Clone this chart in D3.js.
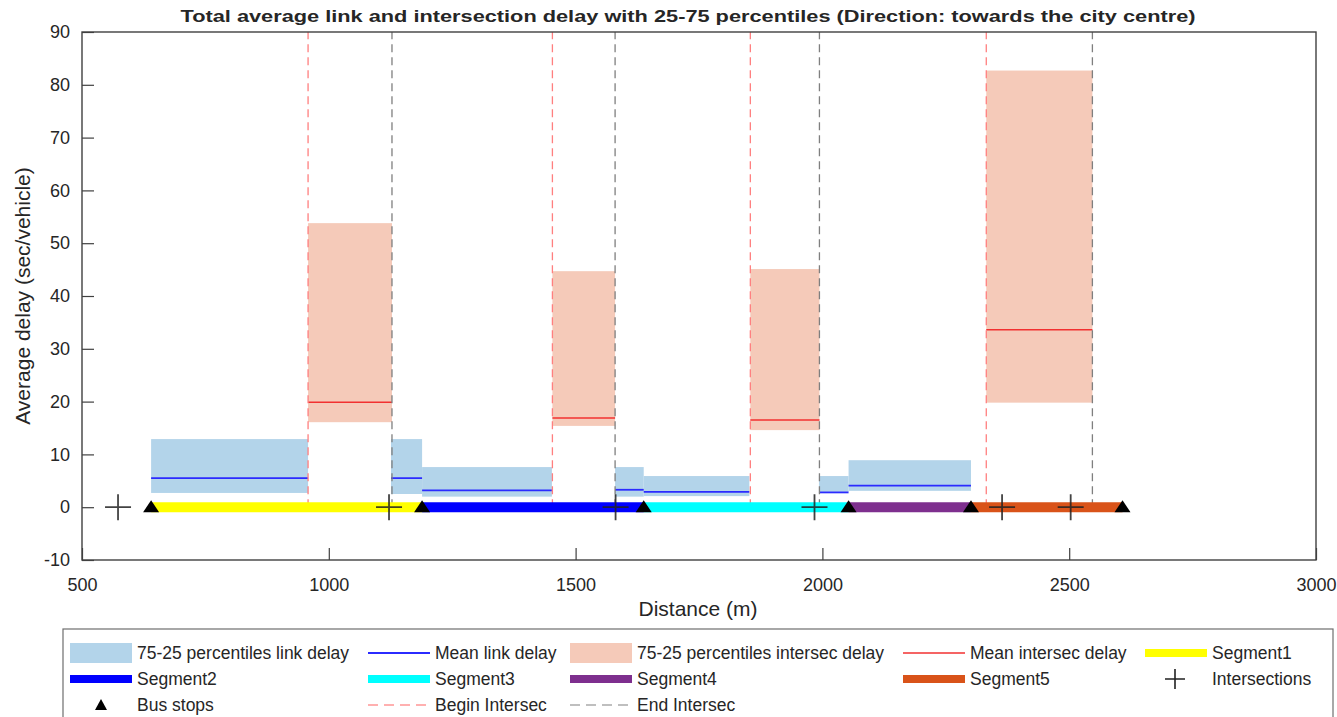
<!DOCTYPE html>
<html>
<head>
<meta charset="utf-8">
<script src="https://cdn.jsdelivr.net/npm/d3@7"></script>
<style>
  body { margin: 0; background: #fff; }
  text { font-family: "Liberation Sans", Arial, sans-serif; fill: #262626; }
</style>
</head>
<body>
<div id="chart"></div>
<script>
// link delay boxes (distance in m, delay in sec/vehicle)
const linkStart = [640, 1126, 1189, 1580, 1638, 1993, 2053];
const linkEnd   = [958, 1189, 1452, 1638, 1852, 2053, 2301];
const linkP25   = [2.7, 2.5, 2.0, 2.0, 2.1, 2.9, 3.1];
const linkP75   = [12.9, 12.9, 7.6, 7.6, 5.9, 5.9, 8.9];
const linkMean  = [5.5, 5.5, 3.2, 3.3, 2.9, 2.8, 4.1];

// intersection delay boxes
const intStart = [958, 1453, 1854, 2332];
const intEnd   = [1128, 1580, 1994, 2547];
const intP25   = [16.1, 15.4, 14.6, 19.8];
const intP75   = [53.8, 44.7, 45.1, 82.7];
const intMean  = [19.9, 16.9, 16.5, 33.6];

const segNames = ["Segment1", "Segment2", "Segment3", "Segment4", "Segment5"];
const segStart = [640, 1189, 1638, 2053, 2301];
const segEnd   = [1189, 1638, 2053, 2301, 2608];
const segColors = ["#ffff00", "#0000ff", "#00ffff", "#7e2f8e", "#d95319"];

const busStops = [640, 1189, 1638, 2053, 2301, 2608];
const intersections = [573, 1122, 1581, 1984, 2364, 2503];

const xTicks = [500, 1000, 1500, 2000, 2500, 3000];
const yTicks = [-10, 0, 10, 20, 30, 40, 50, 60, 70, 80, 90];

const W = 1337, H = 717;
const svg = d3.select("#chart").append("svg")
    .attr("width", W).attr("height", H);

const x = d3.scaleLinear().domain([500, 3000]).range([82, 1316]);
const y = d3.scaleLinear().domain([-10, 90]).range([560, 32]);

const linkColor = "#b3d4ea";
const intColor = "#f5cab9";

const plot = svg.append("g");

// link percentile boxes
plot.selectAll("rect.link").data(linkStart).join("rect")
    .attr("x", (d, i) => x(d))
    .attr("width", (d, i) => x(linkEnd[i]) - x(d))
    .attr("y", (d, i) => y(linkP75[i]))
    .attr("height", (d, i) => y(linkP25[i]) - y(linkP75[i]))
    .attr("fill", linkColor);

plot.selectAll("line.linkmean").data(linkStart).join("line")
    .attr("x1", d => x(d)).attr("x2", (d, i) => x(linkEnd[i]))
    .attr("y1", (d, i) => y(linkMean[i])).attr("y2", (d, i) => y(linkMean[i]))
    .attr("stroke", "#2b2bff").attr("stroke-width", 1.8);

// intersection percentile boxes
plot.selectAll("rect.int").data(intStart).join("rect")
    .attr("x", d => x(d))
    .attr("width", (d, i) => x(intEnd[i]) - x(d))
    .attr("y", (d, i) => y(intP75[i]))
    .attr("height", (d, i) => y(intP25[i]) - y(intP75[i]))
    .attr("fill", intColor);

plot.selectAll("line.intmean").data(intStart).join("line")
    .attr("x1", d => x(d)).attr("x2", (d, i) => x(intEnd[i]))
    .attr("y1", (d, i) => y(intMean[i])).attr("y2", (d, i) => y(intMean[i]))
    .attr("stroke", "#f23030").attr("stroke-width", 1.5);

// begin / end intersection dashed lines
plot.selectAll("line.begin").data(intStart).join("line")
    .attr("x1", d => x(d)).attr("x2", d => x(d))
    .attr("y1", y(0)).attr("y2", y(90))
    .attr("stroke", "#ff7f7f").attr("stroke-width", 1.3)
    .attr("stroke-dasharray", "8,5");
plot.selectAll("line.end").data(intEnd).join("line")
    .attr("x1", d => x(d)).attr("x2", d => x(d))
    .attr("y1", y(0)).attr("y2", y(90))
    .attr("stroke", "#7f7f7f").attr("stroke-width", 1.3)
    .attr("stroke-dasharray", "8,5");

// segments
plot.selectAll("line.seg").data(segStart).join("line")
    .attr("x1", d => x(d)).attr("x2", (d, i) => x(segEnd[i]))
    .attr("y1", y(0)).attr("y2", y(0))
    .attr("stroke", (d, i) => segColors[i]).attr("stroke-width", 10);

// intersection + markers
const plusPath = "M-13,0H13M0,-13V13";
plot.selectAll("path.plus").data(intersections).join("path")
    .attr("transform", d => `translate(${x(d)},${y(0)})`)
    .attr("d", plusPath)
    .attr("stroke", "#222").attr("stroke-opacity", 0.85).attr("stroke-width", 1.8)
    .attr("fill", "none");

// bus stop triangles
const triPath = "M0,-7L8,5L-8,5Z";
plot.selectAll("path.tri").data(busStops).join("path")
    .attr("transform", d => `translate(${x(d)},${y(0)})`)
    .attr("d", triPath)
    .attr("fill", "#000");

// axes (MATLAB-like box with inward ticks)
const axisColor = "#404040";
const xAxis = svg.append("g").attr("transform", `translate(0,${y(-10)})`)
    .call(d3.axisBottom(x).tickValues(xTicks).tickSize(-12).tickPadding(18).tickFormat(d => String(d)));
const yAxis = svg.append("g").attr("transform", `translate(${x(500)},0)`)
    .call(d3.axisLeft(y).tickValues(yTicks).tickSize(-12).tickPadding(12).tickFormat(d => String(d)));
[xAxis, yAxis].forEach(g => {
    g.select(".domain").remove();
    g.selectAll(".tick line").attr("stroke", axisColor).attr("stroke-width", 1.2);
    g.selectAll(".tick text").attr("font-size", 18).attr("fill", "#262626")
        .style("font-family", "'Liberation Sans', Arial, sans-serif");
});
svg.append("rect")
    .attr("x", x(500)).attr("y", y(90))
    .attr("width", x(3000) - x(500)).attr("height", y(-10) - y(90))
    .attr("fill", "none").attr("stroke", axisColor).attr("stroke-width", 1.4);

// labels
svg.append("text")
    .attr("x", 688).attr("y", 22).attr("text-anchor", "middle")
    .attr("font-size", 17).attr("font-weight", "bold").attr("fill", "#000")
    .attr("textLength", 1015).attr("lengthAdjust", "spacingAndGlyphs")
    .text("Total average link and intersection delay with 25-75 percentiles (Direction: towards the city centre)");
svg.append("text")
    .attr("x", 698).attr("y", 616).attr("text-anchor", "middle")
    .attr("font-size", 21)
    .text("Distance (m)");
svg.append("text")
    .attr("transform", "translate(30,296) rotate(-90)")
    .attr("text-anchor", "middle")
    .attr("font-size", 21)
    .text("Average delay (sec/vehicle)");

// legend
const leg = svg.append("g");
leg.append("rect")
    .attr("x", 63).attr("y", 629).attr("width", 1270).attr("height", 100)
    .attr("fill", "#fff").attr("stroke", "#6e6e6e").attr("stroke-width", 1.2);

const legItems = [
    {label: "75-25 percentiles link delay", type: "patch", color: linkColor, col: 0, row: 0},
    {label: "Mean link delay", type: "line", color: "#2b2bff", w: 1.8, col: 1, row: 0},
    {label: "75-25 percentiles intersec delay", type: "patch", color: intColor, col: 2, row: 0},
    {label: "Mean intersec delay", type: "line", color: "#f23030", w: 1.5, col: 3, row: 0},
    {label: segNames[0], type: "thick", color: segColors[0], col: 4, row: 0},
    {label: segNames[1], type: "thick", color: segColors[1], col: 0, row: 1},
    {label: segNames[2], type: "thick", color: segColors[2], col: 1, row: 1},
    {label: segNames[3], type: "thick", color: segColors[3], col: 2, row: 1},
    {label: segNames[4], type: "thick", color: segColors[4], col: 3, row: 1},
    {label: "Intersections", type: "plus", col: 4, row: 1},
    {label: "Bus stops", type: "tri", col: 0, row: 2},
    {label: "Begin Intersec", type: "dash", color: "#ffb0b0", col: 1, row: 2},
    {label: "End Intersec", type: "dash", color: "#bfbfbf", col: 2, row: 2}
];
const colX = [70, 368, 570, 903, 1145];
const rowY = [653, 679, 705];
const iconW = 62;

legItems.forEach(it => {
    const x0 = colX[it.col], yc = rowY[it.row];
    const g = leg.append("g");
    if (it.type === "patch") {
        g.append("rect").attr("x", x0).attr("y", yc - 10).attr("width", iconW).attr("height", 20).attr("fill", it.color);
    } else if (it.type === "line") {
        g.append("line").attr("x1", x0).attr("x2", x0 + iconW).attr("y1", yc).attr("y2", yc)
            .attr("stroke", it.color).attr("stroke-width", it.w);
    } else if (it.type === "thick") {
        g.append("line").attr("x1", x0).attr("x2", x0 + iconW).attr("y1", yc).attr("y2", yc)
            .attr("stroke", it.color).attr("stroke-width", 8);
    } else if (it.type === "dash") {
        g.append("line").attr("x1", x0).attr("x2", x0 + iconW).attr("y1", yc).attr("y2", yc)
            .attr("stroke", it.color).attr("stroke-width", 2).attr("stroke-dasharray", "10,6");
    } else if (it.type === "plus") {
        g.append("path").attr("transform", `translate(${x0 + 30},${yc})`).attr("d", "M-10,0H10M0,-10V10")
            .attr("stroke", "#222").attr("stroke-width", 1.6).attr("fill", "none");
    } else if (it.type === "tri") {
        g.append("path").attr("transform", `translate(${x0 + 31},${yc})`).attr("d", "M0,-6L6,5L-6,5Z")
            .attr("fill", "#000");
    }
    g.append("text").attr("x", x0 + iconW + 5).attr("y", yc + 6)
        .attr("font-size", 17.5).text(it.label);
});
</script>
</body>
</html>
